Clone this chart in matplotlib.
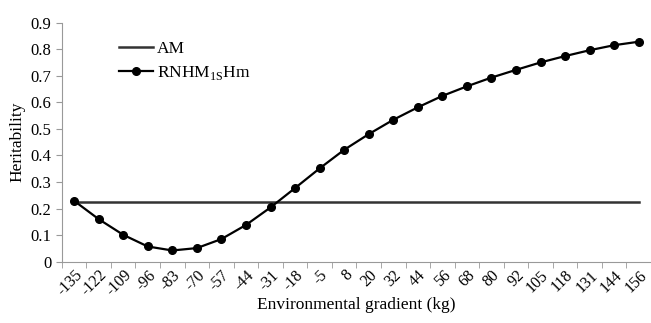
import matplotlib.pyplot as plt
import numpy as np

plt.rcParams['font.family'] = ['Liberation Serif', 'DejaVu Serif']

gradient = ['-135', '-122', '-109', '-96', '-83', '-70', '-57', '-44', '-31', '-18',
            '-5', '8', '20', '32', '44', '56', '68', '80', '92', '105', '118',
            '131', '144', '156']
rnhm = [0.229, 0.160, 0.101, 0.057, 0.042, 0.051, 0.085, 0.138, 0.204, 0.277,
        0.351, 0.421, 0.480, 0.534, 0.581, 0.624, 0.660, 0.693, 0.722, 0.750,
        0.774, 0.796, 0.815, 0.828]
am = [0.226] * len(gradient)

fig = plt.figure(figsize=(6.51, 3.23), dpi=100)
ax = fig.add_axes([0.095, 0.19, 0.905, 0.74])

x = np.arange(len(gradient))
ax.plot(x, am, color='#333333', lw=1.8, label='AM')
ax.plot(x, rnhm, color='black', lw=1.6, marker='o', ms=5.5, label='RNHM$_{\\mathregular{1S}}$Hm')

ax.set_xlim(-0.5, len(gradient) - 0.5)
ax.set_ylim(0, 0.9)
ax.set_yticks(np.arange(0, 0.91, 0.1))
ax.set_yticklabels(['0'] + ['%.1f' % v for v in np.arange(0.1, 0.91, 0.1)])
ax.set_xticks(x)
ax.set_xticklabels(gradient, rotation=45, ha='right', rotation_mode='anchor')
ax.set_xticks(np.arange(-0.5, len(gradient)), minor=True)
ax.tick_params(axis='x', which='major', length=0, labelsize=11.5, pad=4)
ax.tick_params(axis='x', which='minor', length=4, color='#999999')
ax.tick_params(axis='y', length=4, color='#999999', labelsize=12)

for s in ['top', 'right']:
    ax.spines[s].set_visible(False)
ax.spines['left'].set_color('#999999')
ax.spines['bottom'].set_color('#999999')

ax.set_ylabel('Heritability', fontsize=12.5)
ax.set_xlabel('Environmental gradient (kg)', fontsize=12.5, va='center')
ax.xaxis.set_label_coords(0.5, -0.18)

ax.legend(loc='upper left', bbox_to_anchor=(0.07, 0.99), frameon=False,
          fontsize=12.5, handlelength=2.0, handletextpad=0.2, labelspacing=0.4)

fig.savefig('out.png', dpi=100)
